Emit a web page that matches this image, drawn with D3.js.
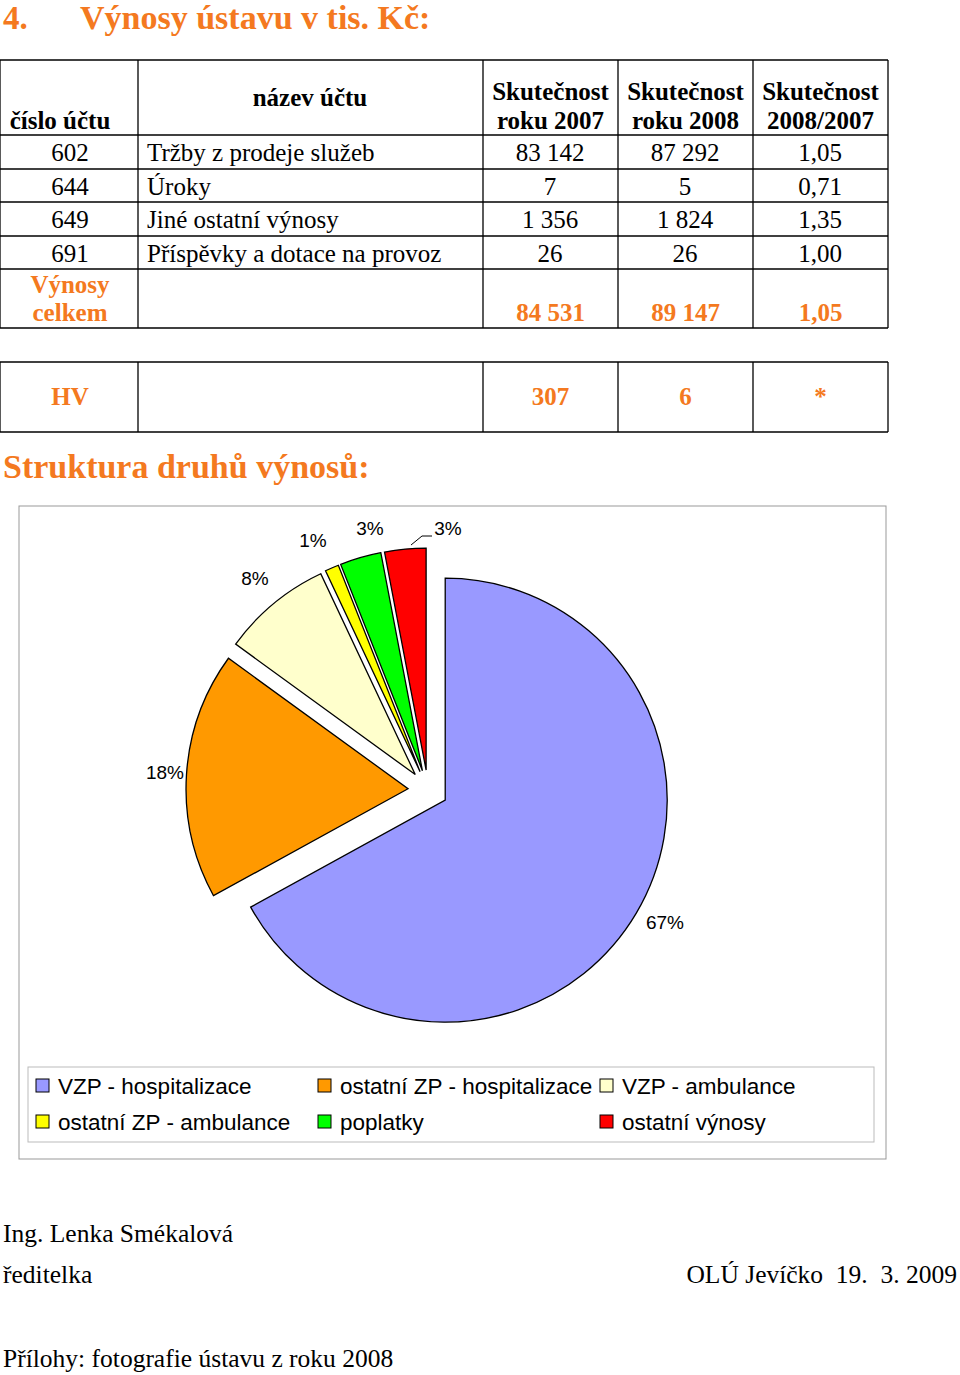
<!DOCTYPE html><html><head><meta charset="utf-8">
<script src="https://cdn.jsdelivr.net/npm/d3@7/dist/d3.min.js"></script>
<style>body{margin:0;background:#fff}svg{display:block}</style></head><body>
<script>
const codes=["602","644","649","691"];
const names=["Tržby z prodeje služeb","Úroky","Jiné ostatní výnosy","Příspěvky a dotace na provoz"];
const v2007=["83 142","7","1 356","26"];
const v2008=["87 292","5","1 824","26"];
const ratio=["1,05","0,71","1,35","1,00"];
const totals=["84 531","89 147","1,05"];
const hv=["307","6","*"];
const pieLabels=["VZP -  hospitalizace","ostatní ZP - hospitalizace","VZP -  ambulance","ostatní ZP - ambulance","poplatky","ostatní výnosy"];
const pieValues=[67,18,8,1,3,3];
const pieColors=["#9999ff","#ff9900","#ffffcc","#ffff00","#00ff00","#ff0000"];
const OR="#f47920";
const svg=d3.select("body").append("svg").attr("width",960).attr("height",1375);
const serif="'Liberation Serif','Times New Roman',serif";
function t(x,y,s,o={}){return svg.append("text").attr("x",x).attr("y",y).text(s)
 .attr("font-family",o.f||serif).attr("font-size",o.s||25).attr("font-weight",o.b?"bold":"normal")
 .attr("fill",o.c||"#000").attr("text-anchor",o.a||"start");}
t(3,29,"4.",{b:1,c:OR,s:33});t(80,29,"Výnosy ústavu v tis. Kč:",{b:1,c:OR,s:34});
const cx=[0,138,483,618,753,888];
const rows=[60,135,169,202,236,269,328];
function grid(ys){ys.forEach(y=>svg.append("line").attr("x1",0).attr("x2",888).attr("y1",y).attr("y2",y).attr("stroke","#000").attr("stroke-width",1.3));
 cx.forEach(x=>svg.append("line").attr("x1",x).attr("x2",x).attr("y1",ys[0]).attr("y2",ys[ys.length-1]).attr("stroke","#000").attr("stroke-width",1.3));}
grid(rows);
t(60,129,"číslo účtu",{b:1,a:"middle"});t(310,106,"název účtu",{b:1,a:"middle"});
[["Skutečnost","roku 2007"],["Skutečnost","roku 2008"],["Skutečnost","2008/2007"]].forEach((h,i)=>{
 const m=(cx[i+2]+cx[i+3])/2;t(m,100,h[0],{b:1,a:"middle"});t(m,129,h[1],{b:1,a:"middle"});});
codes.forEach((c,i)=>{const y=rows[i+1]+26;
 t(70,y,c,{a:"middle"});t(147,y,names[i]);t(550,y,v2007[i],{a:"middle"});t(685,y,v2008[i],{a:"middle"});t(820,y,ratio[i],{a:"middle"});});
t(70,293,"Výnosy",{b:1,c:OR,a:"middle"});t(70,321,"celkem",{b:1,c:OR,a:"middle"});
totals.forEach((v,i)=>t((cx[i+2]+cx[i+3])/2,321,v,{b:1,c:OR,a:"middle"}));
grid([362,432]);
t(70,405,"HV",{b:1,c:OR,a:"middle"});
hv.forEach((v,i)=>t((cx[i+2]+cx[i+3])/2,405,v,{b:1,c:OR,a:"middle"}));
t(3,478,"Struktura druhů výnosů:",{b:1,c:OR,s:34});
svg.append("rect").attr("x",19).attr("y",506).attr("width",867).attr("height",653).attr("fill","#fff").attr("stroke","#999");
const C=[428,790],R=222;
const pie=d3.pie().sort(null).value(d=>d)(pieValues);
const arc=d3.arc().innerRadius(0).outerRadius(R);
const g=svg.append("g").attr("transform",`translate(${C})`);
const labPos=[[665,922],[165,772],[255,578],[313,540],[370,528],[448,528]];
pie.forEach((p,i)=>{const m=(p.startAngle+p.endAngle)/2,e=20;
 g.append("path").attr("d",arc(p)).attr("transform",`translate(${e*Math.sin(m)},${-e*Math.cos(m)})`)
  .attr("fill",pieColors[i]).attr("stroke","#000").attr("stroke-width",1.3);
 svg.append("text").attr("x",labPos[i][0]).attr("y",labPos[i][1]+7).attr("text-anchor","middle").attr("font-family","'Liberation Sans',Arial,sans-serif").attr("font-size",19).text(pieValues[i]+"%");});
svg.append("polyline").attr("points","411,545 422,536 432,536").attr("fill","none").attr("stroke","#000");
svg.append("rect").attr("x",28).attr("y",1067).attr("width",846).attr("height",75).attr("fill","#fff").attr("stroke","#bbb");
pieLabels.forEach((l,i)=>{const x=[36,318,600][i%3],y=i<3?1087:1123;
 svg.append("rect").attr("x",x).attr("y",y-8).attr("width",13).attr("height",13).attr("fill",pieColors[i]).attr("stroke","#000");
 svg.append("text").attr("x",x+22).attr("y",y+7).attr("font-family","'Liberation Sans',Arial,sans-serif").attr("font-size",22.5).text(l);});
t(3,1242,"Ing. Lenka Smékalová",{s:25.5});t(3,1283,"ředitelka",{s:25.5});
t(957,1283,"OLÚ Jevíčko  19.  3. 2009",{s:25.5,a:"end"}).attr("xml:space","preserve");
t(3,1367,"Přílohy: fotografie ústavu z roku 2008",{s:25.5});
</script></body></html>
